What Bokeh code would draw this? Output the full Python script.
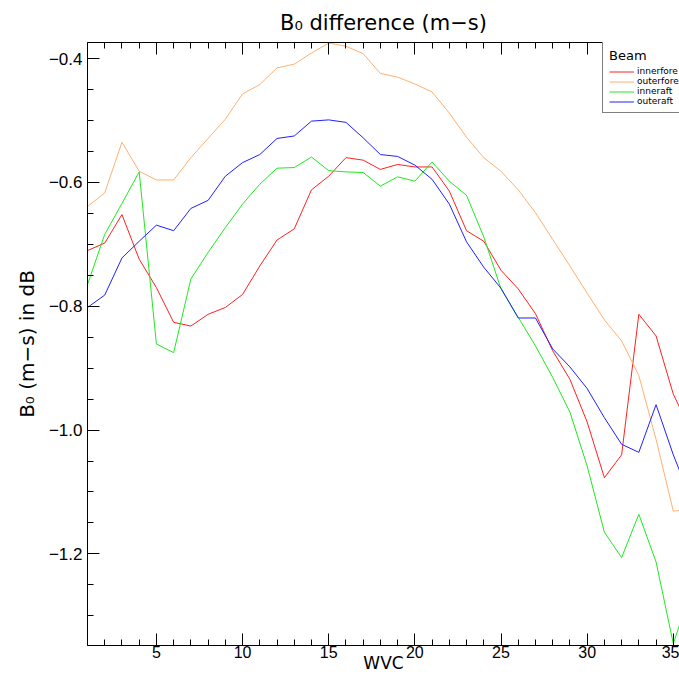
from bokeh.plotting import figure
from bokeh.models import (Range1d, LinearAxis, SingleIntervalTicker, CustomJSTickFormatter,
                          Legend, LegendItem, Title)
from bokeh.embed import file_html
from bokeh.resources import INLINE

# ---- data ----
wvc = list(range(1, 37))

innerfore = [-0.710, -0.698, -0.652, -0.724, -0.770, -0.826, -0.832, -0.813, -0.802, -0.781,
             -0.735, -0.693, -0.675, -0.612, -0.590, -0.560, -0.564, -0.579, -0.571, -0.575,
             -0.575, -0.614, -0.678, -0.695, -0.742, -0.772, -0.812, -0.872, -0.918, -0.987,
             -1.077, -1.040, -0.813, -0.848, -0.942, -1.000]

outerfore = [-0.639, -0.617, -0.535, -0.582, -0.596, -0.596, -0.560, -0.529, -0.498, -0.457,
             -0.442, -0.415, -0.409, -0.391, -0.375, -0.380, -0.392, -0.424, -0.430, -0.441,
             -0.454, -0.488, -0.527, -0.560, -0.582, -0.612, -0.649, -0.692, -0.735, -0.779,
             -0.822, -0.856, -0.912, -1.015, -1.131, -1.128]

inneraft = [-0.765, -0.684, -0.634, -0.583, -0.861, -0.875, -0.756, -0.713, -0.673, -0.635,
            -0.603, -0.577, -0.576, -0.559, -0.581, -0.583, -0.584, -0.606, -0.591, -0.598,
            -0.567, -0.598, -0.621, -0.688, -0.772, -0.818, -0.864, -0.915, -0.971, -1.058,
            -1.165, -1.206, -1.136, -1.213, -1.345, -1.262]

outeraft = [-0.802, -0.782, -0.722, -0.695, -0.669, -0.678, -0.642, -0.629, -0.590, -0.568,
            -0.555, -0.529, -0.525, -0.501, -0.499, -0.503, -0.528, -0.555, -0.558, -0.572,
            -0.595, -0.635, -0.696, -0.737, -0.771, -0.819, -0.819, -0.869, -0.898, -0.933,
            -0.980, -1.023, -1.036, -0.959, -1.040, -1.110]

series_names = ["innerfore", "outerfore", "inneraft", "outeraft"]
series_values = [innerfore, outerfore, inneraft, outeraft]
series_colors = ["#ff2020", "#ffb070", "#20e820", "#2020ff"]

title_text = "B\u2080 difference (m\u2212s)"
x_label = "WVC"
y_label = "B\u2080 (m\u2212s) in dB"

TICK_FONT = "Liberation Sans"
TEXT_FONT = "DejaVu Sans"

p = figure(width=679, height=675, output_backend="svg", toolbar_location=None,
           title=None,
           x_range=Range1d(1, 35.36), y_range=Range1d(-1.348, -0.374),
           min_border_left=87, min_border_right=0, min_border_top=41, min_border_bottom=30)
p.outline_line_color = None
p.xgrid.visible = False
p.ygrid.visible = False
p.background_fill_color = "white"
p.border_fill_color = "white"

xticker = SingleIntervalTicker(interval=5, num_minor_ticks=5)
yticker = SingleIntervalTicker(interval=0.2, num_minor_ticks=4)

def style_axis(ax):
    ax.axis_line_color = "black"
    ax.major_tick_line_color = "black"
    ax.minor_tick_line_color = "black"
    ax.major_tick_in = 12
    ax.major_tick_out = 0
    ax.minor_tick_in = 6
    ax.minor_tick_out = 0
    ax.major_label_text_font = TICK_FONT
    ax.major_label_text_font_size = "17px"
    ax.major_label_text_color = "black"
    ax.axis_label_text_font = TEXT_FONT
    ax.axis_label_text_font_style = "normal"
    ax.axis_label_text_color = "black"

xa = p.xaxis[0]
ya = p.yaxis[0]
style_axis(xa)
style_axis(ya)
xa.ticker = xticker
ya.ticker = yticker
ya.formatter = CustomJSTickFormatter(code="return tick.toFixed(1).replace('-', '\u2212');")
xa.major_label_standoff = 0
xa.major_label_text_font_size = "16px"
xa.axis_label = x_label
xa.axis_label_text_font_size = "17px"
xa.axis_label_standoff = -8
ya.major_label_standoff = 5
ya.axis_label = y_label
ya.axis_label_text_font_size = "20px"
ya.axis_label_standoff = 7

top = LinearAxis(ticker=xticker, formatter=CustomJSTickFormatter(code="return '';"))
style_axis(top)
top.major_label_standoff = 0
p.add_layout(top, "above")

p.add_layout(Title(text=title_text, align="center", text_font=TEXT_FONT,
                   text_font_size="21px", text_font_style="normal",
                   text_color="black", standoff=16), "above")

renderers = []
for vals, col in zip(series_values, series_colors):
    r = p.line(wvc, vals, line_color=col, line_width=1)
    renderers.append(r)

legend = Legend(items=[LegendItem(label=n, renderers=[r]) for n, r in zip(series_names, renderers)],
                title="Beam", location=(515, 532))
legend.border_line_color = "black"
legend.border_line_width = 1
legend.background_fill_color = "white"
legend.background_fill_alpha = 1
legend.label_text_font = TEXT_FONT
legend.label_text_font_size = "9px"
legend.label_text_color = "black"
legend.title_text_font = TEXT_FONT
legend.title_text_font_size = "13px"
legend.title_text_font_style = "normal"
legend.title_text_color = "black"
legend.glyph_width = 25
legend.glyph_height = 9
legend.label_height = 9
legend.label_standoff = 3
legend.spacing = 0
legend.padding = 6
legend.margin = 0
legend.title_standoff = 3
p.add_layout(legend)

open("out.html", "w").write(file_html(p, INLINE))
